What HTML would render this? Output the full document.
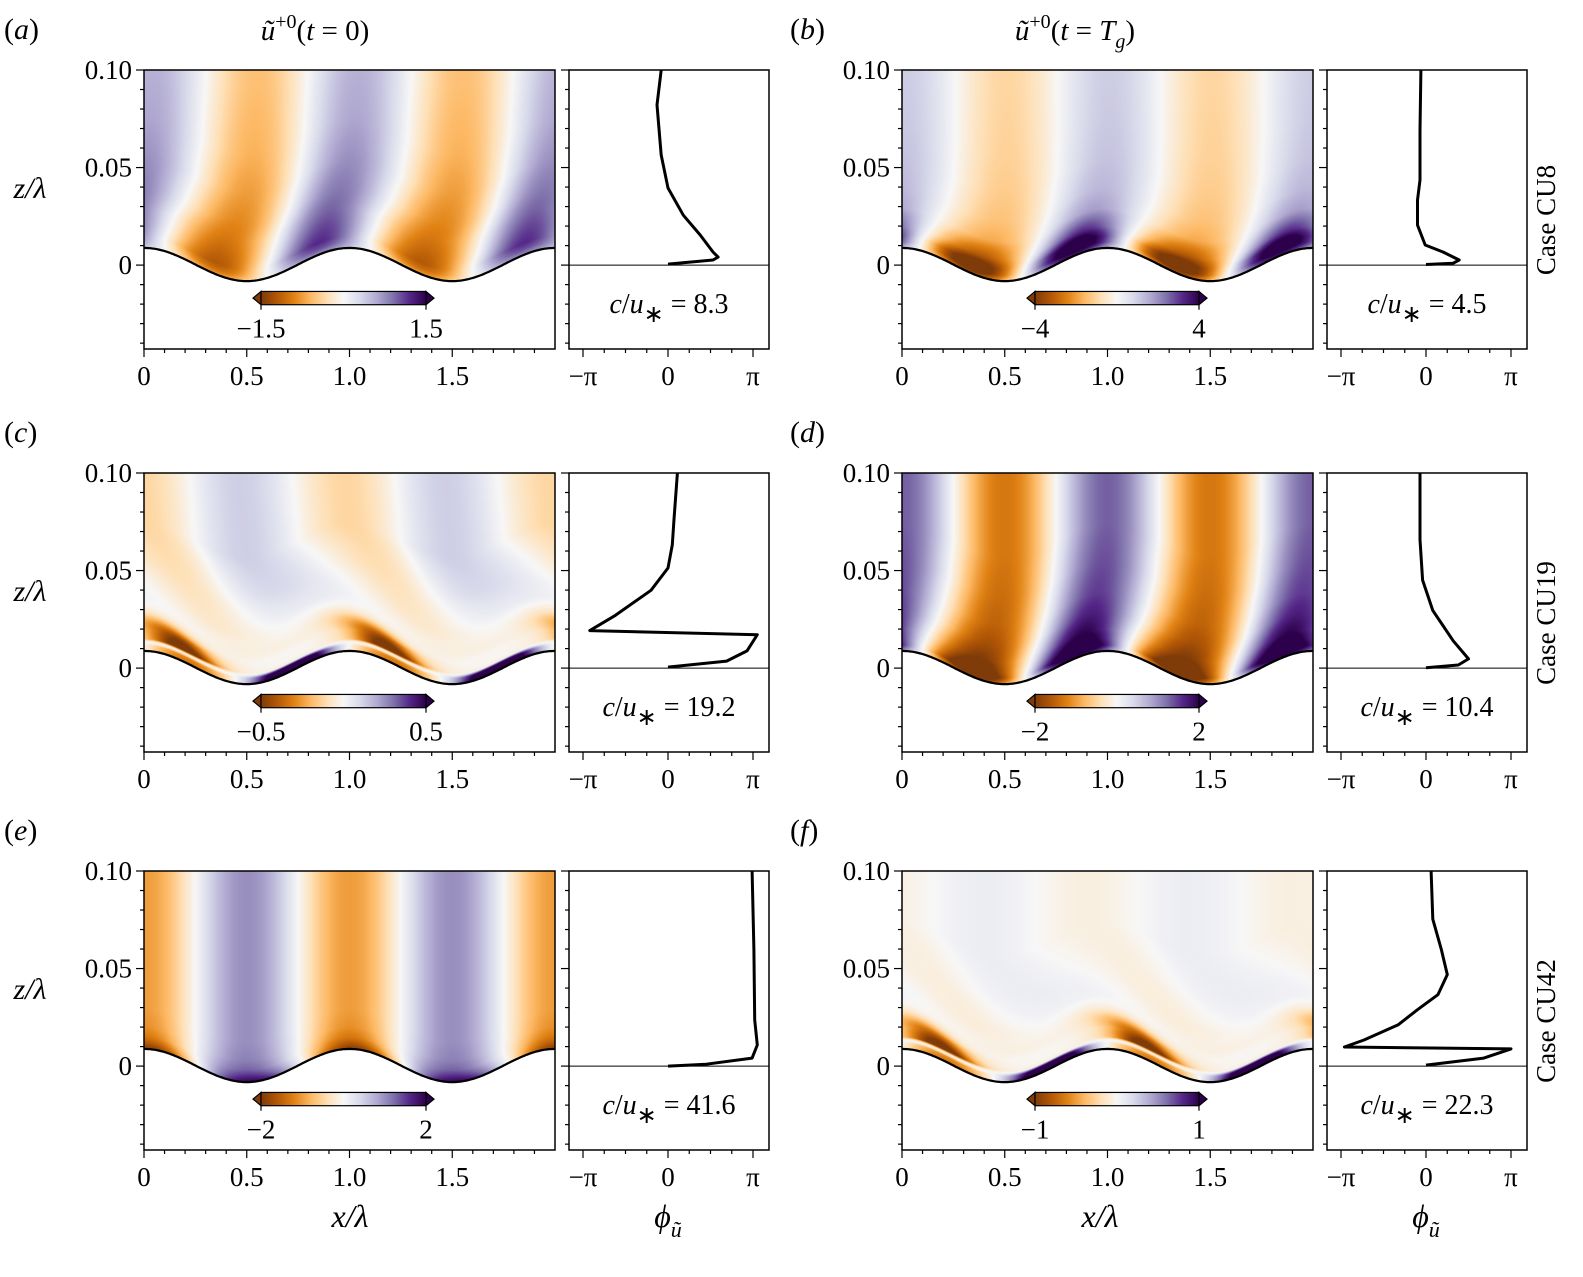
<!DOCTYPE html>
<html><head><meta charset="utf-8">
<style>
html,body{margin:0;padding:0;background:#fff;}
#wrap{position:relative;width:1583px;height:1277px;overflow:hidden;}
canvas{position:absolute;}
svg{position:absolute;left:0;top:0;}
text{font-family:"Liberation Serif",serif;fill:#000;}
</style></head>
<body>
<div id="wrap">
<svg id="svg" width="1583" height="1277"></svg>
</div>
<script>
// ---------- data ----------
const levels = [0,0.003,0.006,0.011,0.02,0.03,0.045,0.065,0.1];
const ampA = [0.5,0.7,0.8,0.75,0.65,0.58,0.5,0.42,0.36];
const posA = [0.85,0.85,0.85,0.87,0.9,0.95,1.0,1.03,1.05];
const lobeA = [0,0,0,0,0,0,0,0,0];
const ampB = [0.8,1.2,1.2,0.8,0.45,0.35,0.3,0.27,0.25];
const posB = [0.83,0.84,0.85,0.88,0.93,0.97,1.0,1.01,1.01];
const lobeB = [0,0,0,0,0,0,0,0,0];
const ampC = [1.8,1.5,-1.3,-0.9,-0.3,-0.2,-0.2,-0.25,-0.25];
const posC = [0.72,0.72,0.7,0.65,0.45,0.3,0.15,0.0,-0.03];
const lobeC = [0.6,0.6,1,1,0.8,0.3,0,0,0];
const ampD = [0.9,1.4,1.2,1.0,0.85,0.75,0.7,0.65,0.65];
const posD = [0.85,0.85,0.86,0.88,0.92,0.95,0.98,1.0,1.0];
const lobeD = [0,0,0,0,0,0,0,0,0];
const ampE = [1.0,0.8,0.65,0.55,0.5,0.5,0.5,0.5,0.5];
const posE = [0.52,0.51,0.5,0.5,0.5,0.5,0.5,0.5,0.5];
const lobeE = [0,0,0,0,0,0,0,0,0];
const ampF = [1.8,1.4,-1.3,-0.8,-0.25,-0.12,-0.07,-0.07,-0.07];
const posF = [0.72,0.72,0.7,0.65,0.45,0.3,0.1,-0.1,-0.1];
const lobeF = [0.6,0.6,1,1,0.8,0.3,0,0,0];

const phZA = [0.1,0.0821,0.0564,0.0395,0.0256,0.0154,0.0067,0.0041,0.0026,0.0005];
const phPA = [-0.08,-0.13,-0.08,0,0.18,0.38,0.53,0.59,0.53,0];
const phZB = [0.1,0.069,0.0436,0.0333,0.0205,0.0103,0.0067,0.0026,0.001,0.0003];
const phPB = [-0.06,-0.07,-0.07,-0.1,-0.1,-0.01,0.2,0.39,0.32,0];
const phZC = [0.1,0.0762,0.0632,0.0513,0.0399,0.027,0.0192,0.0171,0.0088,0.0036,0.0005];
const phPC = [0.11,0.07,0.05,0,-0.2,-0.62,-0.92,1.05,0.93,0.69,0];
const phZD = [0.1,0.0658,0.0451,0.0295,0.014,0.0047,0.0016,0.0002];
const phPD = [-0.07,-0.07,-0.04,0.08,0.32,0.5,0.38,0];
const phZE = [0.1,0.0598,0.0237,0.0108,0.0041,0.001,0.0];
const phPE = [0.99,1.01,1.02,1.05,0.99,0.45,0];
const phZF = [0.1,0.0753,0.0598,0.0469,0.0366,0.0289,0.0211,0.0134,0.0098,0.0088,0.0041,0.0005];
const phPF = [0.06,0.08,0.18,0.25,0.14,-0.1,-0.33,-0.73,-0.96,1.0,0.68,0];

const vmaxLabels = [["−1.5","1.5"],["−4","4"],["−0.5","0.5"],["−2","2"],["−2","2"],["−1","1"]];
const speedRatios = ["8.3","4.5","19.2","10.4","41.6","22.3"];
const caseNames = ["Case CU8","Case CU19","Case CU42"];
const letters = ["a","b","c","d","e","f"];
const xTicks = [0,0.5,1.0,1.5];
const xTickLabels = ["0","0.5","1.0","1.5"];
const zTicks = [0,0.05,0.10];
const zTickLabels = ["0","0.05","0.10"];
const phTicks = [-1,0,1];
const phTickLabels = ["−π","0","π"];

const amps=[ampA,ampB,ampC,ampD,ampE,ampF];
const poss=[posA,posB,posC,posD,posE,posF];
const lobes=[lobeA,lobeB,lobeC,lobeD,lobeE,lobeF];
const phZ=[phZA,phZB,phZC,phZD,phZE,phZF];
const phP=[phPA,phPB,phPC,phPD,phPE,phPF];

// ---------- layout ----------
const rowTop=[70,473,871], H=279, zMin=-0.043, zMax=0.1;
const colOff=[0,758];
const cL=144, cW=411, pL=569, pW=200, p0=668, pPi=85;
const cmap=["#7f3b08","#b35806","#e08214","#fdb863","#fee0b6","#f7f7f7","#d8daeb","#b2abd2","#8073ac","#542788","#2d004b"];
const cmapRGB=cmap.map(h=>[parseInt(h.slice(1,3),16),parseInt(h.slice(3,5),16),parseInt(h.slice(5,7),16)]);
function colorOf(v){v=Math.max(-1,Math.min(1,v));const t=(v+1)/2*10;const i=Math.min(9,Math.floor(t));const f=t-i;const a=cmapRGB[i],b=cmapRGB[i+1];return [a[0]+(b[0]-a[0])*f,a[1]+(b[1]-a[1])*f,a[2]+(b[2]-a[2])*f];}
function interp(xs,ys,x){if(x<=xs[0])return ys[0];for(let i=1;i<xs.length;i++){if(x<=xs[i]){const f=(x-xs[i-1])/(xs[i]-xs[i-1]);return ys[i-1]+(ys[i]-ys[i-1])*f;}}return ys[ys.length-1];}
function eta(x){return 0.0085*Math.cos(2*Math.PI*x)+0.0003;}

const svg=document.getElementById('svg');
const NS="http://www.w3.org/2000/svg";
function el(tag,attrs,parent){const e=document.createElementNS(NS,tag);for(const k in attrs)e.setAttribute(k,attrs[k]);(parent||svg).appendChild(e);return e;}
function txt(x,y,s,size,anchor,parent,style){const t=el('text',{x:x,y:y,'font-size':size,'text-anchor':anchor||'middle'},parent);if(style)t.setAttribute('font-style',style);t.textContent=s;return t;}

for(let k=0;k<6;k++){
  const row=Math.floor(k/2), col=k%2;
  const top=rowTop[row], off=colOff[col];
  const X0=cL+off, PX0=pL+off, PZ=p0+off;
  const yOf=z=>top+(zMax-z)/(zMax-zMin)*H;
  const xOf=x=>X0+x/2*cW;
  const phx=p=>PZ+p*pPi;
  const g=el('g',{});
  
  
  const cv=document.createElement('canvas');
  cv.width=cW;cv.height=H;cv.style.left=X0+'px';cv.style.top=top+'px';
  
  
  document.getElementById('wrap').insertBefore(cv,svg);
  const ctx=cv.getContext('2d');const img=ctx.createImageData(cW,H);
  const A=amps[k],P=poss[k],LB=lobes[k];
  for(let j=0;j<H;j++){const z=zMax-(j+0.5)/H*(zMax-zMin);
    for(let i=0;i<cW;i++){const x=(i+0.5)/cW*2;const zeta=z-eta(x);let c=[255,255,255];
      if(zeta>=0){const a=interp(levels,A,zeta),p=interp(levels,P,zeta),lb=interp(levels,LB,zeta);
        const cs=Math.cos(2*Math.PI*(x-p));
        const shape=a>=0?Math.exp(2*(cs-1)):Math.exp(-2*(cs+1));
        c=colorOf(a*((1-lb)*cs+lb*shape));}
      const o=(j*cW+i)*4;img.data[o]=c[0];img.data[o+1]=c[1];img.data[o+2]=c[2];img.data[o+3]=255;}}
  ctx.putImageData(img,0,0);
  let d='';for(let i=0;i<=200;i++){const x=i/100;d+=(i?'L':'M')+xOf(x).toFixed(1)+','+yOf(eta(x)).toFixed(1);}
  const sf=el('path',{d:d,fill:'none',stroke:'#000','stroke-width':2.2},g);
  
  
  const cbL=col?1035:261, cbR=col?1199:426, cy0=yOf(-0.0135), cy1=yOf(-0.0203);
  const gid='cbg'+k;const defs=el('defs',{},g);const lg=el('linearGradient',{id:gid,x1:0,x2:1,y1:0,y2:0},defs);
  cmap.forEach((c,i)=>el('stop',{offset:(i/10),'stop-color':c},lg));
  const cb=el('g',{},g);
  
  
  const ah=8;
  el('path',{d:`M${cbL},${cy0}L${cbL-ah},${(cy0+cy1)/2}L${cbL},${cy1}Z`,fill:cmap[0],stroke:'#000','stroke-width':1.2},cb);
  el('path',{d:`M${cbR},${cy0}L${cbR+ah},${(cy0+cy1)/2}L${cbR},${cy1}Z`,fill:cmap[10],stroke:'#000','stroke-width':1.2},cb);
  el('rect',{x:cbL,y:cy0,width:cbR-cbL,height:cy1-cy0,fill:`url(#${gid})`,stroke:'#000','stroke-width':1.2},cb);
  [cbL,cbR].forEach((xx,ii)=>{el('line',{x1:xx,x2:xx,y1:cy1,y2:cy1+5,stroke:'#000','stroke-width':1.2},cb);
    const t=txt(xx,cy1+33,vmaxLabels[k][ii],27,'middle',cb);});
  const fr=el('rect',{x:X0,y:top,width:cW,height:H,fill:'none',stroke:'#000','stroke-width':1.5},g);
  
  
  const bot=top+H;
  for(let m=0;m<20;m++){const xx=xOf(m*0.1);el('line',{x1:xx,x2:xx,y1:bot,y2:bot+(m%5==0?8:4),stroke:'#000','stroke-width':1.2},g);}
  xTicks.forEach((v,i)=>{const t=txt(xOf(v),bot+36,xTickLabels[i],27,'middle',g);});
  for(let m=-4;m<=10;m++){const yy=yOf(m*0.01);[X0,PX0].forEach(ax=>el('line',{x1:ax,x2:ax-(m%5==0?8:4),y1:yy,y2:yy,stroke:'#000','stroke-width':1.2},g));}
  zTicks.forEach((v,i)=>{const t=txt(X0-12,yOf(v)+9,zTickLabels[i],27,'end',g);});
  const pf=el('rect',{x:PX0,y:top,width:pW,height:H,fill:'#fff',stroke:'#000','stroke-width':1.5},g);
  
  
  el('line',{x1:PX0,x2:PX0+pW,y1:yOf(0),y2:yOf(0),stroke:'#000','stroke-width':1},g);
  for(let m=-4;m<=4;m++){const xx=phx(m/4);el('line',{x1:xx,x2:xx,y1:bot,y2:bot+(m%4==0?8:4),stroke:'#000','stroke-width':1.2},g);}
  phTicks.forEach((v,i)=>{const t=txt(phx(v),bot+36,phTickLabels[i],27,'middle',g);});
  const Z=phZ[k],Pp=phP[k];let pd='';Z.forEach((z,i)=>{pd+=(i?'L':'M')+phx(Pp[i]).toFixed(1)+','+yOf(z).toFixed(1);});
  const pl=el('path',{d:pd,fill:'none',stroke:'#000','stroke-width':3,'stroke-linejoin':'round'},g);
  
  
  const ct=el('text',{x:PX0+pW/2,y:top+243,'font-size':28,'text-anchor':'middle'},g);
  
  
  ct.innerHTML=`<tspan font-style="italic">c</tspan>/<tspan font-style="italic">u</tspan><tspan dy="9" font-size="24">∗</tspan><tspan dy="-9"> = ${speedRatios[k]}</tspan>`;
  const lt=el('text',{x:col?790:4,y:top-31,'font-size':30},g);
  
  
  lt.innerHTML=`(<tspan font-style="italic">${letters[k]}</tspan>)`;
  if(col===0){
    const zl=el('text',{x:30,y:top+128,'font-size':30,'text-anchor':'middle','font-style':'italic'},g);
    
    
    zl.textContent='z/λ';
  }
}
[[315,'0'],[1075,'T']].forEach((a,i)=>{
  const t=el('text',{x:a[0],y:40,'font-size':29,'text-anchor':'middle'});
  
  
  t.innerHTML=`<tspan font-style="italic">ũ</tspan><tspan dy="-12" font-size="20">+0</tspan><tspan dy="12">(</tspan><tspan font-style="italic">t</tspan> = `+(i? `<tspan font-style="italic">T</tspan><tspan dy="8" font-size="20" font-style="italic">g</tspan><tspan dy="-8">)</tspan>`:`0)`);
});
[[350,1100],[668,1426]].forEach((p,j)=>p.forEach(x=>{
  const t=el('text',{x:x,y:1227,'font-size':32,'text-anchor':'middle','font-style':'italic'});
  
  
  t.innerHTML=j?'ϕ<tspan dy="10" font-size="22">ũ</tspan>':'x/λ';
}));
caseNames.forEach((s,i)=>{
  const cy=rowTop[i]+150;
  const t=el('text',{x:1555,y:cy,'font-size':27,'text-anchor':'middle',transform:`rotate(-90 1555 ${cy})`});
  
  
  t.textContent=s;
});
</script>
</body></html>
